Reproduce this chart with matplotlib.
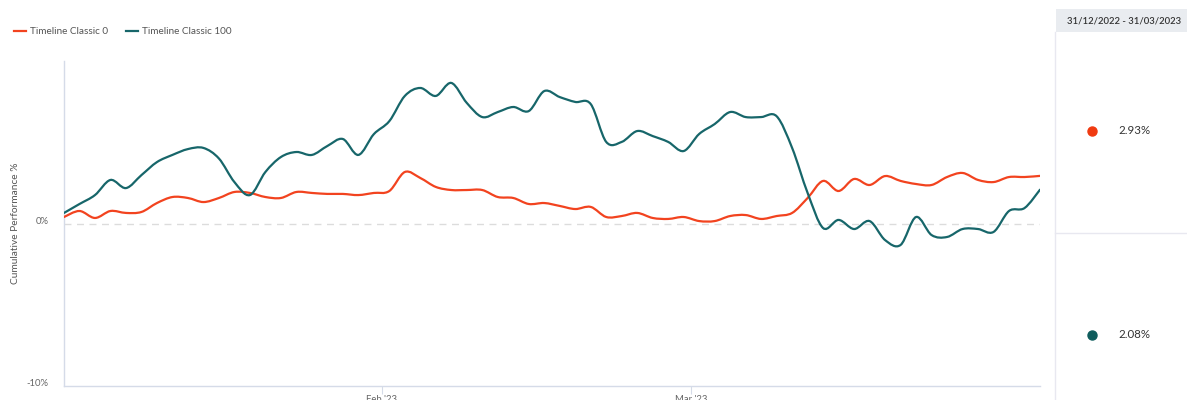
import matplotlib.pyplot as plt
import numpy as np
import pandas as pd
from matplotlib.path import Path
from matplotlib.patches import PathPatch, Rectangle
from matplotlib.lines import Line2D

plt.rcParams['font.family'] = ['Lato', 'DejaVu Sans']

# business days of the period
dates = pd.bdate_range('2023-01-03', '2023-03-31')

classic_0 = [0.40, 0.77, 0.34, 0.77, 0.65, 0.71, 1.26, 1.63, 1.57, 1.32,
             1.57, 1.94, 1.88, 1.63, 1.57, 1.94, 1.88, 1.82, 1.82, 1.75,
             1.88, 2.00, 3.17, 2.80, 2.25, 2.06, 2.06, 2.06, 1.63, 1.57,
             1.20, 1.26, 1.08, 0.89, 1.02, 0.40, 0.46, 0.65, 0.34, 0.28,
             0.40, 0.15, 0.15, 0.46, 0.52, 0.28, 0.46, 0.65, 1.57, 2.62,
             2.00, 2.74, 2.37, 2.92, 2.62, 2.43, 2.37, 2.86, 3.11, 2.68,
             2.55, 2.86, 2.86, 2.93]
classic_100 = [0.65, 1.20, 1.75, 2.68, 2.18, 2.98, 3.78, 4.22, 4.58, 4.65,
               4.00, 2.55, 1.75, 3.17, 4.09, 4.40, 4.22, 4.77, 5.20, 4.22,
               5.50, 6.30, 7.85, 8.34, 7.85, 8.65, 7.42, 6.55, 6.86, 7.17,
               6.92, 8.15, 7.78, 7.48, 7.35, 5.02, 5.02, 5.69, 5.38, 5.02,
               4.46, 5.51, 6.12, 6.86, 6.55, 6.55, 6.60, 4.65, 1.88, -0.28,
               0.22, -0.34, 0.15, -1.02, -1.32, 0.40, -0.71, -0.83, -0.34, -0.34,
               -0.52, 0.77, 0.95, 2.08]

series_names = ['Timeline Classic 0', 'Timeline Classic 100']
series_colors = ['#f2431f', '#17666a']
dot_colors = ['#f03a10', '#0f5d5d']
final_values = ['2.93%', '2.08%']
period_label = '31/12/2022 - 31/03/2023'
y_ticks = [-10, 0]
y_tick_labels = ['-10%', '0%']


def smooth_path(x, y):
    # catmull-rom style bezier through the data points
    px = np.concatenate([[x[0]], x, [x[-1]]])
    py = np.concatenate([[y[0]], y, [y[-1]]])
    verts = [(x[0], y[0])]
    codes = [Path.MOVETO]
    for i in range(len(x) - 1):
        c1 = (px[i + 1] + (px[i + 2] - px[i]) / 6, py[i + 1] + (py[i + 2] - py[i]) / 6)
        c2 = (px[i + 2] - (px[i + 3] - px[i + 1]) / 6, py[i + 2] - (py[i + 3] - py[i + 1]) / 6)
        verts += [c1, c2, (x[i + 1], y[i + 1])]
        codes += [Path.CURVE4] * 3
    return Path(verts, codes)


fig = plt.figure(figsize=(11.87, 4), dpi=100)
ax = fig.add_axes([64 / 1187, 14 / 400, 976 / 1187, 325 / 400])

x = np.arange(len(dates), dtype=float)
ax.axhline(0, color='#dcdcdc', lw=1, ls=(0, (5, 4)), zorder=1)
for vals, col in zip([classic_0, classic_100], series_colors):
    ax.add_patch(PathPatch(smooth_path(x, np.array(vals, float)), fill=False,
                           edgecolor=col, lw=1.6, zorder=3, capstyle='round'))

ax.set_xlim(0, len(dates) - 1)
ax.set_ylim(-10, 10)

# month boundaries on the business-day axis
month_idx = np.where(dates.month[1:] != dates.month[:-1])[0]
ax.set_xticks(month_idx + 0.5)
ax.set_xticklabels([dates[i + 1].strftime("%b '%y") for i in month_idx])
ax.set_yticks(y_ticks)
ax.set_yticklabels(y_tick_labels)

for s in ['top', 'right']:
    ax.spines[s].set_visible(False)
for s in ['left', 'bottom']:
    ax.spines[s].set_color('#d5dbe8')
    ax.spines[s].set_linewidth(1)
ax.tick_params(axis='x', colors='#d5dbe8', labelcolor='#666666', labelsize=6.8, length=6, pad=0.5)
ax.tick_params(axis='y', length=0, labelcolor='#666666', labelsize=6.8, pad=11)
for t in ax.get_yticklabels():
    t.set_va('baseline')
ax.set_ylabel('Cumulative Performance %', fontsize=7.3, color='#555555')
ax.yaxis.set_label_coords(-0.045, 0.5)

handles = [Line2D([], [], color=c, lw=1.6) for c in series_colors]
fig.legend(handles, series_names, loc='center left', bbox_to_anchor=(5 / 1187, 1 - 32 / 400),
           ncol=2, frameon=False, fontsize=7.2, labelcolor='#555555',
           handlelength=1.2, handletextpad=0.45, columnspacing=1.7)

# right-hand summary panel
pax = fig.add_axes([1054 / 1187, 0, 133 / 1187, 1])
pax.set_xlim(0, 133)
pax.set_ylim(400, 0)
pax.axis('off')
pax.add_patch(Rectangle((2, 9), 131, 23, color='#e9ecf0', lw=0))
pax.text(70, 20.5, period_label, ha='center', va='center', fontsize=6.8,
         color='#333333', fontweight='semibold')
pax.plot([1, 1], [32, 400], color='#e8e8f0', lw=1)
pax.plot([1, 133], [233, 233], color='#e8e8f0', lw=1)
for yy, val, col in zip([131, 335], final_values, dot_colors):
    pax.plot(38, yy, 'o', ms=6.5, color=col)
    pax.text(64, yy, val, ha='left', va='center', fontsize=8.3, color='#333333')

fig.savefig('out.png', dpi=100)
